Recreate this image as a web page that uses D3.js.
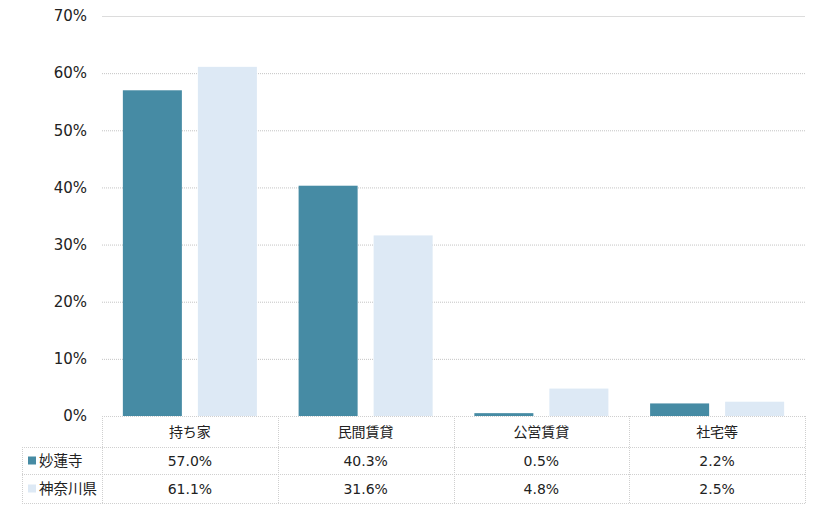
<!DOCTYPE html>
<html><head><meta charset="utf-8">
<script src="https://cdn.jsdelivr.net/npm/d3@7"></script>
<style>
body{margin:0;background:#fff;}
text{font-family:"DejaVu Sans","Noto Sans CJK JP",sans-serif;fill:#222;}
</style></head>
<body>
<svg id="c" width="820" height="510"></svg>
<script>
const categories = ["持ち家","民間賃貸","公営賃貸","社宅等"];
const seriesNames = ["妙蓮寺","神奈川県"];
const seriesColors = ["#468ba4","#dde9f5"];
const values妙蓮寺 = [57.0, 40.3, 0.5, 2.2];
const values神奈川県 = [61.1, 31.6, 4.8, 2.5];
const yTicks = [0,10,20,30,40,50,60,70];
const series = [values妙蓮寺, values神奈川県];

const FONT = '"DejaVu Sans","Noto Sans CJK JP",sans-serif';
const svg = d3.select("#c");
const L = 102, R = 805, T = 16, B = 416;
const x0 = d3.scaleBand().domain(categories).range([L,R]).padding(0);
const x1 = d3.scaleBand().domain(d3.range(series.length)).range([0,x0.bandwidth()])
  .paddingInner(0.2133).paddingOuter(0.278);
const y = d3.scaleLinear().domain([0,70]).range([B,T]);

// grid
svg.append("g").selectAll("line").data(yTicks.filter(d=>d>0)).join("line")
  .attr("x1",L).attr("x2",R).attr("y1",d=>y(d)+0.5).attr("y2",d=>y(d)+0.5)
  .attr("stroke",d=>d===70?"#dcdcdc":"#c4c4c4")
  .attr("stroke-dasharray",d=>d===70?null:"1,1");

// y axis labels
const yAxis = d3.axisLeft(y).tickValues(yTicks).tickFormat(d=>d+"%").tickSize(0).tickPadding(15);
const ga = svg.append("g").attr("transform",`translate(${L},0)`).call(yAxis);
ga.select(".domain").remove();
ga.selectAll("text").attr("font-size",15).attr("fill","#222").style("font-family",FONT);

// bars
categories.forEach((c,i)=>{
  series.forEach((s,j)=>{
    svg.append("rect")
      .attr("x",x0(c)+x1(j)).attr("width",x1.bandwidth())
      .attr("y",y(s[i])).attr("height",y(0)-y(s[i]))
      .attr("fill",seriesColors[j]);
  });
});

// table
const rows = [B, 447, 474, 503];
const tl = 22;
const g = svg.append("g").attr("stroke","#cfcfcf").attr("stroke-dasharray","1,1").attr("fill","none");
g.append("line").attr("x1",L).attr("x2",R).attr("y1",rows[0]+0.5).attr("y2",rows[0]+0.5);
[1,2,3].forEach(k=>g.append("line").attr("x1",tl).attr("x2",R).attr("y1",rows[k]+0.5).attr("y2",rows[k]+0.5));
g.append("line").attr("x1",tl+0.5).attr("x2",tl+0.5).attr("y1",rows[1]).attr("y2",rows[3]);
categories.forEach(c=>{
  const xx = Math.round(x0(c))+0.5;
  g.append("line").attr("x1",xx).attr("x2",xx).attr("y1",rows[0]).attr("y2",rows[3]);
});
g.append("line").attr("x1",R+0.5).attr("x2",R+0.5).attr("y1",rows[0]).attr("y2",rows[3]);

categories.forEach(c=>{
  svg.append("text").attr("x",x0(c)+x0.bandwidth()/2).attr("y",(rows[0]+rows[1])/2)
    .attr("text-anchor","middle").attr("dominant-baseline","central").attr("font-size",14).text(c);
});
series.forEach((s,j)=>{
  const cy = (rows[j+1]+rows[j+2])/2;
  svg.append("rect").attr("x",28).attr("y",cy-4).attr("width",8).attr("height",8).attr("fill",seriesColors[j]);
  svg.append("text").attr("x",39).attr("y",cy).attr("dominant-baseline","central").attr("font-size",14.5).text(seriesNames[j]);
  categories.forEach((c,i)=>{
    svg.append("text").attr("x",x0(c)+x0.bandwidth()/2).attr("y",cy)
      .attr("text-anchor","middle").attr("dominant-baseline","central").attr("font-size",14)
      .text(s[i].toFixed(1)+"%");
  });
});
</script>
</body></html>
